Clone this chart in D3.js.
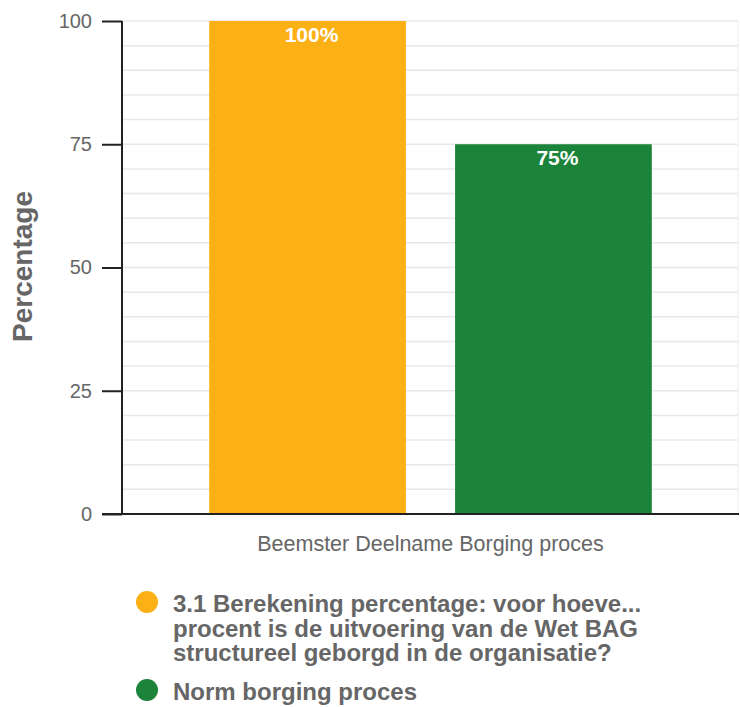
<!DOCTYPE html>
<html>
<head>
<meta charset="utf-8">
<script src="https://cdn.jsdelivr.net/npm/d3@7"></script>
<style>
    body { margin: 0; background: #fff; }
    svg { display: block; font-family: 'Liberation Sans', Arial, sans-serif; }
</style>
</head>
<body>
<div id="chart"></div>
<script>
// Data
const categories = ['Beemster Deelname Borging proces'];
const seriesNames = ['Berekening', 'Norm'];
const seriesValues = [100, 75];
const seriesColors = ['#fbb016', '#1b833a'];
const legendLabels = [
    ['3.1 Berekening percentage: voor hoeve...', 'procent is de uitvoering van de Wet BAG', 'structureel geborgd in de organisatie?'],
    ['Norm borging proces']
];
const yTicks = [0, 25, 50, 75, 100];
const yGrid = d3.range(0, 101, 5);

const chart = {
    totalWidth: 740,
    totalHeight: 707,
    margin: { top: 21, bottom: 193, left: 122, right: 1 }
};
chart.width = chart.totalWidth - chart.margin.left - chart.margin.right;
chart.height = chart.totalHeight - chart.margin.top - chart.margin.bottom;

const svg = d3.select('#chart')
    .append('svg')
    .attr('width', chart.totalWidth)
    .attr('height', chart.totalHeight);

const g = svg.append('g')
    .attr('transform', `translate(${chart.margin.left}, ${chart.margin.top})`);

// Scales
const yScale = d3.scaleLinear()
    .domain([0, 100])
    .range([chart.height, 0]);

const x0 = d3.scaleBand()
    .domain(categories)
    .range([0, chart.width])
    .paddingOuter(0.197)
    .paddingInner(0);

const x1 = d3.scaleBand()
    .domain(seriesNames)
    .range([0, x0.bandwidth()])
    .paddingInner(0.2)
    .paddingOuter(0);

// Grid
g.append('g')
    .classed('grid', true)
    .selectAll('line')
    .data(yGrid)
    .enter()
    .append('line')
    .attr('x1', 0)
    .attr('x2', chart.width - 1)
    .attr('y1', d => yScale(d))
    .attr('y2', d => yScale(d))
    .attr('stroke', '#e8e8e8')
    .attr('stroke-width', 1.5);

g.append('line')
    .attr('x1', chart.width - 1).attr('x2', chart.width - 1)
    .attr('y1', 0).attr('y2', chart.height)
    .attr('stroke', '#efefef');

// Bars
const bars = g.append('g')
    .selectAll('g')
    .data(categories)
    .enter()
    .append('g')
    .attr('transform', d => `translate(${x0(d)}, 0)`);

bars.selectAll('rect')
    .data(() => seriesNames.map((s, i) => ({ key: s, value: seriesValues[i], color: seriesColors[i] })))
    .enter()
    .append('rect')
    .attr('x', d => x1(d.key))
    .attr('y', d => yScale(d.value))
    .attr('width', x1.bandwidth())
    .attr('height', d => chart.height - yScale(d.value))
    .attr('fill', d => d.color);

bars.selectAll('text.value')
    .data(() => seriesNames.map((s, i) => ({ key: s, value: seriesValues[i] })))
    .enter()
    .append('text')
    .classed('value', true)
    .attr('x', d => x1(d.key) + x1.bandwidth() / 2 + 4)
    .attr('y', d => yScale(d.value) + 21)
    .attr('text-anchor', 'middle')
    .attr('fill', '#fff')
    .attr('font-weight', 'bold')
    .attr('font-size', 21)
    .text(d => d.value + '%');

// Y-axis
const yAxis = d3.axisLeft(yScale)
    .tickValues(yTicks)
    .tickSize(20)
    .tickPadding(10);

const yAxisG = g.append('g')
    .classed('y-axis', true)
    .call(yAxis);
yAxisG.select('.domain')
    .attr('d', `M0,0V${chart.height}`)
    .attr('stroke', '#222')
    .attr('stroke-width', 2);
yAxisG.selectAll('.tick line')
    .attr('stroke', '#222')
    .attr('stroke-width', 2);
yAxisG.selectAll('.tick text')
    .attr('fill', '#666')
    .attr('font-size', 20)
    .attr('font-family', "'Liberation Sans', Arial, sans-serif");

// X-axis
const xAxis = d3.axisBottom(x0).tickSize(0).tickPadding(22);
const xAxisG = g.append('g')
    .classed('x-axis', true)
    .attr('transform', `translate(0, ${chart.height})`)
    .call(xAxis);
xAxisG.select('.domain')
    .attr('d', `M-20,0H${chart.width}`)
    .attr('stroke', '#222')
    .attr('stroke-width', 2);
xAxisG.selectAll('.tick text')
    .attr('fill', '#666')
    .attr('font-size', 21.5)
    .attr('font-family', "'Liberation Sans', Arial, sans-serif");

// Y label
svg.append('text')
    .attr('transform', `translate(32, ${chart.margin.top + chart.height / 2 - 1}) rotate(-90)`)
    .attr('text-anchor', 'middle')
    .attr('fill', '#666')
    .attr('font-weight', 'bold')
    .attr('font-size', 28)
    .text('Percentage');

// Legend
const legendTop = [602, 690];
const legend = svg.append('g').classed('legend', true);
legendLabels.forEach((lines, i) => {
    legend.append('circle')
        .attr('cx', 147)
        .attr('cy', legendTop[i])
        .attr('r', 11)
        .attr('fill', seriesColors[i]);
    const t = legend.append('text')
        .attr('x', 173)
        .attr('y', legendTop[i] + 10)
        .attr('fill', '#666')
        .attr('font-weight', 'bold')
        .attr('font-size', 24);
    lines.forEach((line, j) => {
        t.append('tspan')
            .attr('x', 173)
            .attr('dy', j === 0 ? 0 : 24.5)
            .text(line);
    });
});
</script>
</body>
</html>
